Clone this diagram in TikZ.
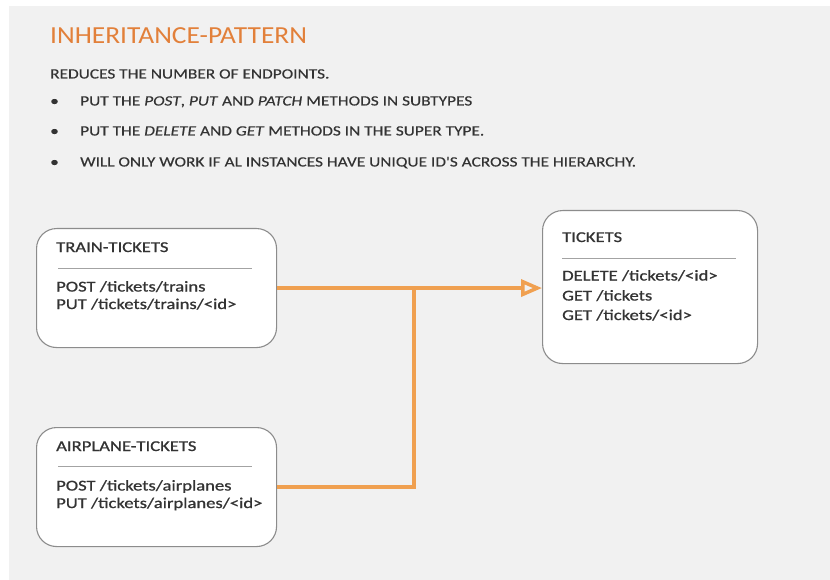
\documentclass[tikz,border=0pt]{standalone}
\usepackage{fontspec}
\setmainfont{Carlito}
\newfontfamily\headfont[FakeStretch=1.12]{Carlito}
\newfontfamily\introfont[FakeStretch=1.22, FakeBold=0.3]{Carlito}
\newfontfamily\boxfont[FakeStretch=1.24, FakeBold=0.9]{Carlito}
\usetikzlibrary{arrows.meta}
\definecolor{pagebg}{HTML}{F1F1F1}
\definecolor{accent}{HTML}{F0A050}
\definecolor{headline}{HTML}{E2803A}
\definecolor{ink}{HTML}{333333}
\definecolor{frame}{HTML}{8C8C8C}
\tikzset{
  x=1pt, y=-1pt,
  classbox/.style={draw=frame, line width=1.1pt, fill=white, rounded corners=20pt,
    minimum width=240pt, minimum height=119pt, anchor=north west, inner sep=0pt},
  boxline/.style={anchor=base west, inner sep=0pt, font=\boxfont\fontsize{15}{18}\selectfont, text=ink},
  rule/.style={draw=frame!80, line width=0.9pt},
  intro/.style={anchor=base west, inner sep=0pt, font=\introfont\fontsize{14.2}{17}\selectfont, text=ink},
  conn/.style={draw=accent, line width=3.5pt},
  inherit/.style={conn, -{Triangle[open, length=21pt, width=17pt, line width=3.5pt]}}
}
\begin{document}
\begin{tikzpicture}
\useasboundingbox (0,0) rectangle (830,580);
\fill[pagebg] (9,6) rectangle (830,580);

% heading and notes
\node[anchor=base west, inner sep=0pt, font=\headfont\fontsize{24.5}{28}\selectfont, text=headline] (head) at (50,44) {INHERITANCE-PATTERN};
\node[intro] (lead) at (50,78.5) {REDUCES THE NUMBER OF ENDPOINTS.};
\node[intro] (b1) at (50,105.5) {•};
\node[intro] (p1) at (80,105.5) {PUT THE \textit{POST}, \textit{PUT} AND \textit{PATCH} METHODS IN SUBTYPES};
\node[intro] (b2) at (50,135.5) {•};
\node[intro] (p2) at (80,135.5) {PUT THE \textit{DELETE} AND \textit{GET} METHODS IN THE SUPER TYPE.};
\node[intro] (b3) at (50,166.5) {•};
\node[intro] (p3) at (80,166.5) {WILL ONLY WORK IF AL INSTANCES HAVE UNIQUE ID'S ACROSS THE HIERARCHY.};

% train tickets
\node[classbox] (train) at (36,228) {};
\node[boxline] (trainT) at (56,252) {TRAIN-TICKETS};
\draw[rule] (58,268) -- (252,268);
\node[boxline] (trainB1) at (56,291.5) {POST /tickets/trains};
\node[boxline] (trainB2) at (56,309) {PUT /tickets/trains/<id>};

% airplane tickets
\node[classbox] (air) at (36,427) {};
\node[boxline] (airT) at (56,451) {AIRPLANE-TICKETS};
\draw[rule] (58,466) -- (252,466);
\node[boxline] (airB1) at (56,490.5) {POST /tickets/airplanes};
\node[boxline] (airB2) at (56,508) {PUT /tickets/airplanes/<id>};

% tickets super type
\node[classbox, minimum width=215pt, minimum height=153pt] (tickets) at (542,210) {};
\node[boxline] (ticketsT) at (562,242) {TICKETS};
\draw[rule] (562,258) -- (736,258);
\node[boxline] (ticketsB1) at (562,280.5) {DELETE /tickets/<id>};
\node[boxline] (ticketsB2) at (562,300.5) {GET /tickets};
\node[boxline] (ticketsB3) at (562,320) {GET /tickets/<id>};

% inheritance connectors
\coordinate (join) at (414,0);
\draw[inherit] (train.east) -- (train.east -| tickets.west);
\draw[conn] (air.east) -| (join |- train.east);
\end{tikzpicture}
\end{document}
